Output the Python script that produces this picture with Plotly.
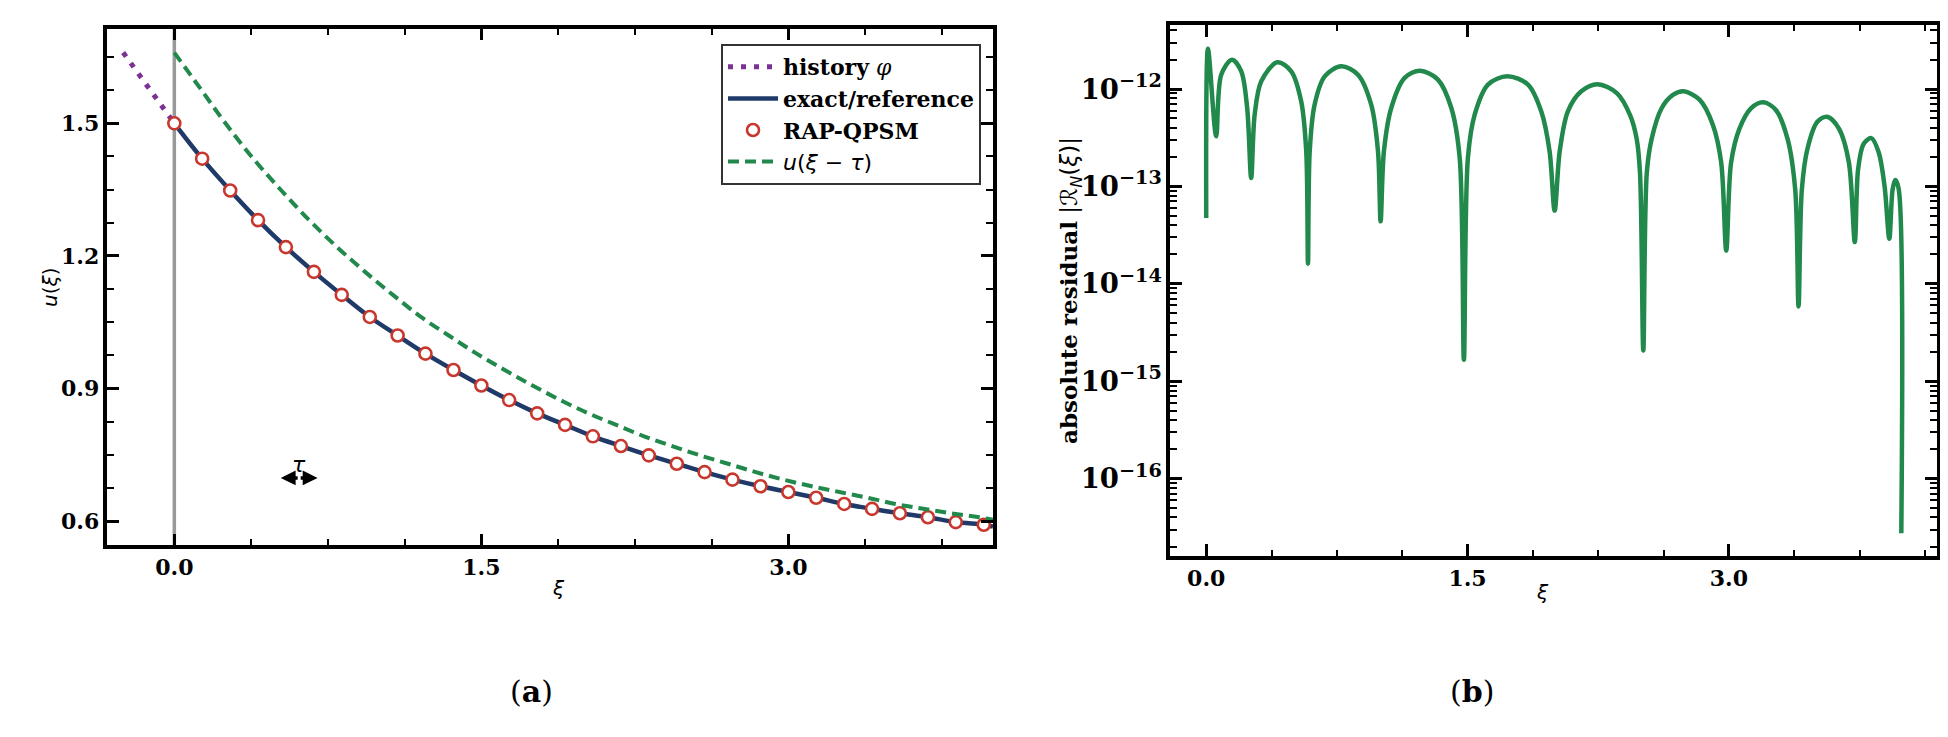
import plotly.graph_objects as go

# ---- panel (a): solution values ----
tau = 0.25

history_xi = [-0.25, -0.125, 0.0]
history_u = [1.660, 1.580, 1.500]

rap_xi = [0.0, 0.136, 0.273, 0.409, 0.545, 0.682, 0.818, 0.955, 1.091, 1.227,
          1.364, 1.5, 1.636, 1.773, 1.909, 2.045, 2.182, 2.318, 2.455, 2.591,
          2.727, 2.864, 3.0, 3.136, 3.273, 3.409, 3.545, 3.682, 3.818, 3.955]
rap_u = [1.500, 1.420, 1.348, 1.281, 1.220, 1.164, 1.112, 1.062, 1.020, 0.979,
         0.942, 0.907, 0.874, 0.844, 0.818, 0.792, 0.770, 0.749, 0.730, 0.711,
         0.694, 0.679, 0.666, 0.653, 0.639, 0.628, 0.618, 0.609, 0.598, 0.592]

exact_xi = rap_xi + [4.0]
exact_u = rap_u + [0.588]

# u(xi - tau): history and solution shifted right by tau
shift_xi = [x + tau for x in history_xi[:-1] + exact_xi]
shift_u = history_u[:-1] + exact_u

# tau arrow (left tip, right tip, height)
arrow_xi = [0.52, 0.70]
arrow_u = 0.698

# ---- panel (b): absolute residual ----
res_xi = [0.0, 0.010, 0.057, 0.086, 0.148, 0.201, 0.235, 0.258, 0.278, 0.316,
          0.408, 0.488, 0.545, 0.574, 0.584, 0.594, 0.622, 0.680, 0.775, 0.871,
          0.947, 0.986, 1.001, 1.020, 1.062, 1.139, 1.227, 1.330, 1.407, 1.455,
          1.479, 1.502, 1.541, 1.617, 1.728, 1.847, 1.923, 1.971, 2.000, 2.029,
          2.076, 2.153, 2.245, 2.357, 2.433, 2.471, 2.490, 2.509, 2.529, 2.557,
          2.614, 2.681, 2.741, 2.833, 2.909, 2.956, 2.985, 3.013, 3.061, 3.127,
          3.198, 3.270, 3.337, 3.381, 3.400, 3.419, 3.451, 3.508, 3.565, 3.632,
          3.689, 3.723, 3.742, 3.774, 3.818, 3.860, 3.894, 3.921, 3.940, 3.955,
          3.974, 3.990]
res_val = [4.74e-14, 2.59e-12, 3.27e-13, 1.40e-12, 2.00e-12, 1.52e-12, 6.38e-13, 1.22e-13, 5.45e-13, 1.20e-12,
           1.88e-12, 1.52e-12, 7.48e-13, 2.29e-13, 1.61e-14, 2.29e-13, 6.90e-13, 1.35e-12, 1.71e-12, 1.40e-12,
           6.90e-13, 2.29e-13, 4.38e-14, 2.29e-13, 6.38e-13, 1.30e-12, 1.54e-12, 1.25e-12, 6.38e-13, 1.96e-13,
           1.66e-15, 1.96e-13, 5.45e-13, 1.11e-12, 1.35e-12, 1.11e-12, 5.90e-13, 2.29e-13, 5.64e-14, 2.29e-13,
           5.90e-13, 9.46e-13, 1.12e-12, 9.08e-13, 5.40e-13, 3.08e-13, 1.38e-13, 2.07e-15, 1.38e-13, 3.08e-13,
           6.34e-13, 8.73e-13, 9.46e-13, 7.74e-13, 4.25e-13, 1.76e-13, 2.19e-14, 1.76e-13, 3.92e-13, 6.34e-13,
           7.31e-13, 6.08e-13, 3.08e-13, 9.27e-14, 5.85e-15, 9.27e-14, 2.42e-13, 4.60e-13, 5.19e-13, 3.92e-13,
           1.76e-13, 2.68e-14, 1.50e-13, 2.74e-13, 3.13e-13, 2.24e-13, 1.00e-13, 2.90e-14, 9.27e-14, 1.16e-13,
           9.64e-14, 2.74e-17]

xi_ticks = [0.0, 1.5, 3.0]
xi_labels = ["0.0", "1.5", "3.0"]
u_ticks = [0.6, 0.9, 1.2, 1.5]
u_labels = ["0.6", "0.9", "1.2", "1.5"]

W, H = 1948, 737
NAVY = "#1f3a68"
RED = "#c8372d"
GREEN = "#21894b"
PURPLE = "#7b3294"

fig = go.Figure()

fig.add_trace(go.Scatter(x=history_xi, y=history_u, mode="lines", name="<b>history</b> <i>φ</i>",
                         line=dict(color=PURPLE, width=5, dash="5px,8px")))
fig.add_trace(go.Scatter(x=exact_xi, y=exact_u, mode="lines", name="<b>exact/reference</b>",
                         line=dict(color=NAVY, width=4.5, shape="spline")))
fig.add_trace(go.Scatter(x=rap_xi, y=rap_u, mode="markers", name="<b>RAP-QPSM</b>",
                         marker=dict(symbol="circle", size=12, color="white",
                                     line=dict(color=RED, width=2.6))))
fig.add_trace(go.Scatter(x=shift_xi, y=shift_u, mode="lines",
                         name="<span style='font-family:DejaVu Sans'><i>u</i>(<i>ξ</i> − <i>τ</i>)</span>",
                         line=dict(color=GREEN, width=4, dash="11px,6px", shape="spline")))

fig.add_trace(go.Scatter(x=res_xi, y=res_val, mode="lines", showlegend=False,
                         line=dict(color=GREEN, width=4.5, shape="spline", smoothing=0.9),
                         xaxis="x2", yaxis="y2"))

tick_font = dict(family="DejaVu Serif", size=22, color="black", weight="bold")
common = dict(showline=True, linewidth=3.5, linecolor="black", mirror="allticks",
              ticks="inside", ticklen=12, tickwidth=2.5, tickcolor="black",
              showgrid=False, zeroline=False, tickfont=tick_font)

fig.update_layout(
    width=W, height=H,
    margin=dict(l=0, r=0, t=0, b=0),
    paper_bgcolor="white", plot_bgcolor="white",
    font=dict(family="DejaVu Serif", size=20, color="black"),
    xaxis=dict(domain=[99.4 / W, 985 / W], range=[-0.327, 4.0], anchor="y",
               tickvals=xi_ticks, ticktext=xi_labels,
               minor=dict(ticks="inside", ticklen=7, tickwidth=2, tickcolor="black",
                          tick0=0, dtick=0.375, showgrid=False),
               **common),
    yaxis=dict(domain=[1 - 537.3 / H, 1 - 20.7 / H], range=[0.5455, 1.714], anchor="x",
               tickvals=u_ticks, ticktext=u_labels,
               minor=dict(ticks="inside", ticklen=7, tickwidth=2, tickcolor="black",
                          tick0=0, dtick=0.075, showgrid=False),
               **common),
    xaxis2=dict(domain=[1162 / W, 1928.5 / W], range=[-0.208, 4.192], anchor="y2",
                tickvals=xi_ticks, ticktext=xi_labels,
                minor=dict(ticks="inside", ticklen=6, tickwidth=2, tickcolor="black",
                           tick0=0, dtick=0.375, showgrid=False),
                **common),
    yaxis2=dict(domain=[1 - 548 / H, 1 - 17.3 / H], type="log", range=[-16.795, -11.346],
                anchor="x2", dtick=1, exponentformat="power", showexponent="all",
                minor=dict(ticks="inside", ticklen=7, tickwidth=2, tickcolor="black",
                           dtick="D1", showgrid=False),
                **common),
    legend=dict(x=973 / W, xanchor="right", y=1 - 36 / H, yanchor="top",
                bordercolor="#333333", borderwidth=2, bgcolor="white",
                font=dict(family="DejaVu Serif", size=22, color="black"),
                itemwidth=50, tracegroupgap=0),
    shapes=[dict(type="line", xref="x", yref="y domain", x0=0, x1=0, y0=0, y1=1,
                 line=dict(color="#999999", width=3.5), layer="below")],
)

mid = (arrow_xi[0] + arrow_xi[1]) / 2
annotations = []
# double-headed tau arrow, drawn as two halves pointing outwards
for tip in arrow_xi:
    annotations.append(dict(x=tip, y=arrow_u, ax=mid, ay=arrow_u, xref="x", yref="y",
                            axref="x", ayref="y", text="", showarrow=True, arrowhead=2,
                            arrowsize=0.85, arrowwidth=3.5, arrowcolor="black", standoff=0))
annotations += [
    dict(x=mid, y=arrow_u, xref="x", yref="y", yshift=13, text="<i>τ</i>", showarrow=False,
         font=dict(family="DejaVu Sans", size=22, color="black")),
    # axis titles
    dict(x=28 / W, y=1 - 280 / H, xref="paper", yref="paper", text="<i>u</i>(<i>ξ</i>)",
         textangle=-90, showarrow=False, font=dict(family="DejaVu Sans", size=20)),
    dict(x=542 / W, y=1 - 594 / H, xref="paper", yref="paper", text="<i>ξ</i>",
         showarrow=False, font=dict(family="DejaVu Sans", size=20)),
    dict(x=1063 / W, y=1 - 283 / H, xref="paper", yref="paper",
         text="<b>absolute residual</b> <span style='font-family:DejaVu Sans'>|<i>ℛ</i><sub><i>N</i></sub>(<i>ξ</i>)|</span>",
         textangle=-90, showarrow=False, font=dict(family="DejaVu Serif", size=23)),
    dict(x=1543 / W, y=1 - 598 / H, xref="paper", yref="paper", text="<i>ξ</i>",
         showarrow=False, font=dict(family="DejaVu Sans", size=20)),
    # sub-figure captions
    dict(x=500 / W, y=1 - 703 / H, xref="paper", yref="paper", text="(<b>a</b>)",
         showarrow=False, font=dict(family="DejaVu Serif", size=30)),
    dict(x=1488 / W, y=1 - 703 / H, xref="paper", yref="paper", text="(<b>b</b>)",
         showarrow=False, font=dict(family="DejaVu Serif", size=30)),
]
fig.update_layout(annotations=annotations)

fig.write_html("out.html")
